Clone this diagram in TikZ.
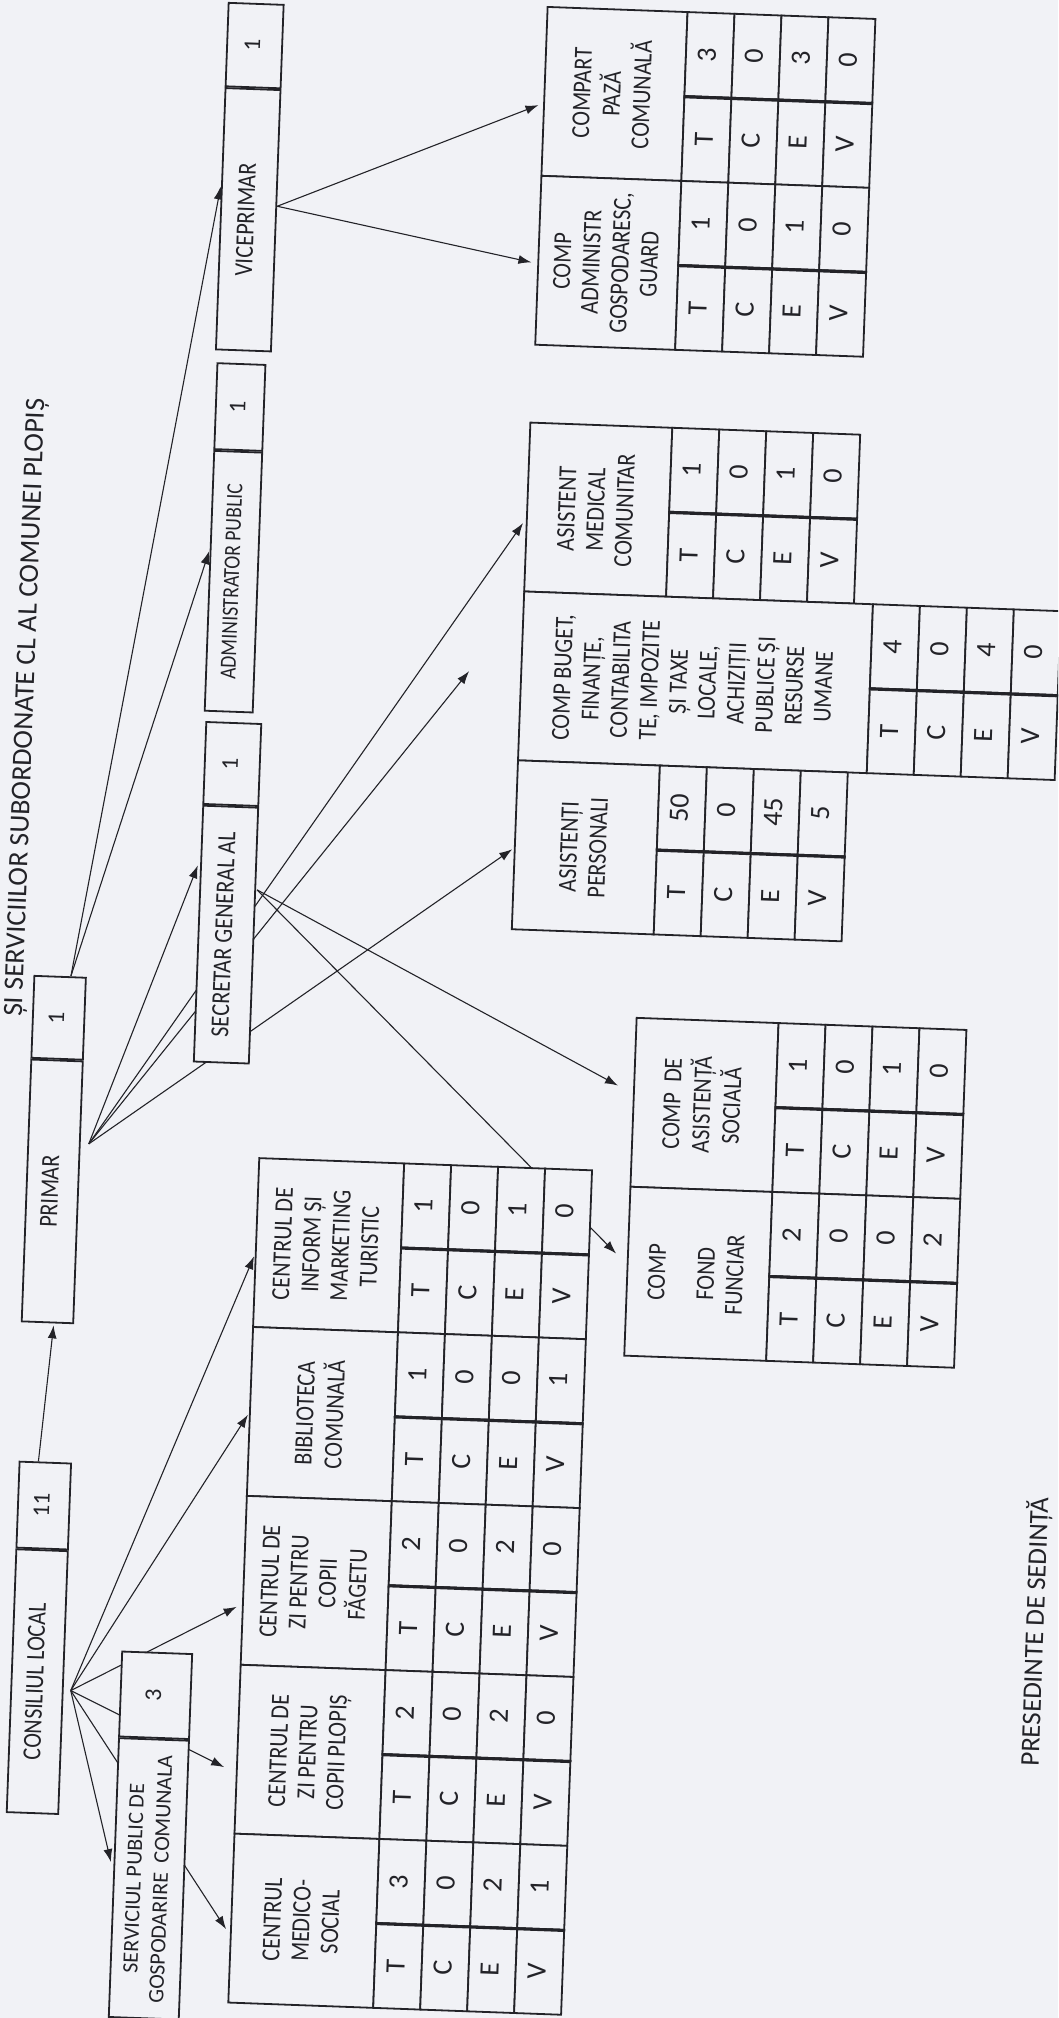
\documentclass[tikz,border=0pt]{standalone}
\usepackage{fontspec}
\setmainfont{Carlito}
\newfontfamily\narrowfont{Carlito}[FakeStretch=0.85]
\usetikzlibrary{arrows.meta,calc,positioning}
\definecolor{paper}{RGB}{241,242,246}
\definecolor{ink}{RGB}{35,35,40}
\pgfdeclarelayer{bg}
\pgfdeclarelayer{edges}
\pgfsetlayers{bg,edges,main}

\newcommand{\rot}[1]{\rotatebox{90}{\begin{tabular}{@{}c@{}}#1\end{tabular}}}
% table: name, x, y, header width, header text, T, C, E, V
\newcommand{\orgtab}[9]{%
  \node[hdr, minimum width=#4, anchor=north west] (#1) at (#2,#3) {\rot{#5}};
  \foreach \lett/\valu [count=\cnt from 0] in {T/#6,C/#7,E/#8,V/#9} {
    \node[cell, anchor=north west] (#1-v\lett) at ({#2+#4+47*\cnt},#3) {\rot{\valu}};
    \node[cell, minimum height=85, anchor=north west] (#1-\lett) at ({#2+#4+47*\cnt},{#3+84}) {\rot{\lett}};
  }
  \draw[split] (#1-vT.south west) -- (#1-vV.south east);
}

\begin{document}
\begin{tikzpicture}[x=1pt, y=-1pt,
    box/.style={draw=ink, line width=1.8pt, fill=paper, inner sep=0pt, text=ink,
      font={\narrowfont\fontsize{26}{29}\selectfont}},
    num/.style={box, font={\fontsize{24}{28}\selectfont}},
    hdr/.style={box, minimum height=169},
    cell/.style={box, minimum width=47, minimum height=84, font={\fontsize{28}{32}\selectfont}},
    split/.style={draw=ink, line width=2.8pt},
    arr/.style={draw=ink, line width=1.1pt, shorten >=2pt, -{Latex[length=13pt,width=9pt]}}]
  \useasboundingbox (0,0) rectangle (1058,2018);
  \begin{pgfonlayer}{bg}
    \fill[paper] (0,0) rectangle (1058,2018);
  \end{pgfonlayer}
  \clip (0,0) rectangle (1058,2018);

  \begin{scope}[rotate around={-2.1:(529,1009)}, transform shape]
    % heading and signature
    \node[font={\fontsize{28}{32}\selectfont}, text=ink, inner sep=0pt, anchor=north west] (title) at (4,417)
      {\rotatebox{90}{ȘI SERVICIILOR SUBORDONATE CL AL COMUNEI PLOPIȘ}};
    \node[font={\fontsize{27}{31}\selectfont}, text=ink, inner sep=0pt, anchor=north east] (pres) at (1071,1478)
      {\rotatebox{90}{PRESEDINTE DE SEDINȚĂ}};

    % leading posts
    \node[num, minimum width=55, minimum height=83.5] (vice-n) at (219.5,56.25) {\rot{1}};
    \node[box, minimum width=55, minimum height=261.5, below=0pt of vice-n] (vice) {\rot{VICEPRIMAR}};
    \node[num, minimum width=48, minimum height=86] (admin-n) at (218,418) {\rot{1}};
    \node[box, minimum width=48, minimum height=260, below=0pt of admin-n,
      font={\narrowfont\fontsize{23}{27}\selectfont}] (admin) {\rot{ADMINISTRATOR PUBLIC}};
    \node[num, minimum width=55, minimum height=82] (secr-n) at (223.5,775) {\rot{1}};
    \node[box, minimum width=55, minimum height=256, below=0pt of secr-n] (secr) {\rot{SECRETAR GENERAL AL}};
    \node[num, minimum width=51.5, minimum height=82] (prim-n) at (59.25,1035) {\rot{1}};
    \node[box, minimum width=51.5, minimum height=262, below=0pt of prim-n] (prim) {\rot{PRIMAR}};
    \node[num, minimum width=51.5, minimum height=86] (cons-n) at (62.25,1523) {\rot{11}};
    \node[box, minimum width=51.5, minimum height=263, below=0pt of cons-n] (cons) {\rot{CONSILIUL LOCAL}};
    \node[num, minimum width=70, minimum height=85] (serv-n) at (181,1708.5) {\rot{3}};
    \node[box, minimum width=70, minimum height=279, below=0pt of serv-n,
      font={\fontsize{22}{27}\selectfont}] (serv) {\rot{SERVICIUL PUBLIC DE\\GOSPODARIRE~~COMUNALA}};

    % compartments
    \orgtab{inform}{264}{1167}{145}{CENTRUL DE\\INFORM ȘI\\MARKETING\\TURISTIC}{1}{0}{1}{0}
    \orgtab{biblio}{264}{1336}{145}{BIBLIOTECA\\COMUNALĂ}{1}{0}{0}{1}
    \orgtab{faget}{264}{1505}{145}{CENTRUL DE\\ZI PENTRU\\COPII\\FĂGETU}{2}{0}{2}{0}
    \orgtab{plopis}{264}{1674}{145}{CENTRUL DE\\ZI PENTRU\\COPII PLOPIȘ}{2}{0}{2}{0}
    \orgtab{medico}{264}{1843}{145}{CENTRUL\\MEDICO-\\SOCIAL}{3}{0}{2}{1}
    \orgtab{asoc}{636}{1013}{142}{COMP~~DE\\ASISTENȚĂ\\SOCIALĂ}{1}{0}{1}{0}
    \orgtab{fond}{636}{1182}{142}{COMP\\[20pt]FOND\\FUNCIAR}{2}{0}{0}{2}
    \orgtab{asmed}{508}{422}{142}{ASISTENT\\MEDICAL\\COMUNITAR}{1}{0}{1}{0}
    \orgtab{buget}{508}{591}{349}{COMP BUGET,\\FINANȚE,\\CONTABILITA\\TE, IMPOZITE\\ȘI TAXE\\LOCALE,\\ACHIZIȚII\\PUBLICE ȘI\\RESURSE\\UMANE}{4}{0}{4}{0}
    \orgtab{aspers}{508}{760}{142}{ASISTENȚI\\PERSONALI}{50}{0}{45}{5}
    \orgtab{compaza}{510}{6}{140}{COMPART\\PAZĂ\\COMUNALĂ}{3}{0}{3}{0}
    \orgtab{admgosp}{510}{175}{140}{COMP\\ADMINISTR\\GOSPODARESC,\\GUARD}{1}{0}{1}{0}

    % links
    \begin{pgfonlayer}{edges}
      \coordinate (consfan) at (96,1707);
      \coordinate (primfan) at (94,1160);
      \coordinate (primtop) at (70,993);
      \coordinate (secrfan) at (253,900);
      \coordinate (vicefan) at (248,216);
      \coordinate (bugettip) at (458,672);
      \draw[arr] ($(cons-n.north west)!0.37!(cons-n.north east)$) -- ($(prim.south west)!0.62!(prim.south east)$);
      \draw[arr] (consfan) -- ($(inform.north west)!0.57!(inform.south west)$);
      \draw[arr] (consfan) -- ($(biblio.north west)!0.51!(biblio.south west)$);
      \draw[arr, shorten >=6pt] (consfan) -- ($(faget.north west)!0.64!(faget.south west)$);
      \draw[arr, shorten >=13pt] (consfan) -- ($(plopis.north west)!0.64!(plopis.south west)$);
      \draw[arr, shorten >=7pt] (consfan) -- ($(medico.north west)!0.60!(medico.south west)$);
      \draw[arr, shorten >=10pt] (consfan) -- ($(serv.north west)!0.48!(serv.south west)$);
      \draw[arr] (primtop) -- ($(vice.north west)!0.37!(vice.south west)$);
      \draw[arr] (primtop) -- ($(admin.north west)!0.38!(admin.south west)$);
      \draw[arr, shorten >=7pt] (primfan) -- ($(secr.north west)!0.21!(secr.south west)$);
      \draw[arr, shorten >=5pt] (primfan) -- ($(asmed.north west)!0.57!(asmed.south west)$);
      \draw[arr] (primfan) -- (bugettip);
      \draw[arr] (primfan) -- ($(aspers.north west)!0.52!(aspers.south west)$);
      \draw[arr, shorten >=17pt] (secrfan) -- ($(asoc.north west)!0.45!(asoc.south west)$);
      \draw[arr, shorten >=15pt] (secrfan) -- ($(fond.north west)!0.46!(fond.south west)$);
      \draw[arr, shorten >=5pt] (vicefan) -- ($(compaza.north west)!0.57!(compaza.south west)$);
      \draw[arr, shorten >=6pt] (vicefan) -- ($(admgosp.north west)!0.52!(admgosp.south west)$);
    \end{pgfonlayer}
  \end{scope}
\end{tikzpicture}
\end{document}
